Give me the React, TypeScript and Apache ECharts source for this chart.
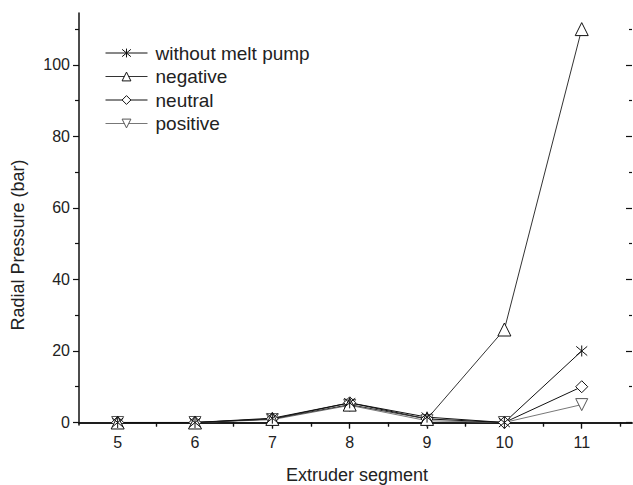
import React, { useEffect, useRef } from "react";
import * as echarts from "echarts";

const segments = [5, 6, 7, 8, 9, 10, 11];
const withoutMeltPump = [0, 0, 1.2, 5.5, 1.5, 0, 20];
const negative = [0, 0, 1, 5, 1, 26, 110];
const neutral = [0, 0, 1, 5.5, 1, 0, 10];
const positive = [0, 0, 0.8, 4.8, 0.5, 0, 5];

const xMajor = [5, 6, 7, 8, 9, 10, 11];
const xMinor = [5.5, 6.5, 7.5, 8.5, 9.5, 10.5, 11.5];
const yMajor = [0, 20, 40, 60, 80, 100];
const yMinor = [10, 30, 50, 70, 90, 110];

const FONT = "'Liberation Sans', Arial, sans-serif";

const ASTERISK = "path://M0,0L10,10M10,0L0,10M5,-1L5,11";
const TRI_UP = "path://M5,0L10,9L0,9Z";
const TRI_DOWN = "path://M0,0L10,0L5,9Z";

function pairs(vals: number[]) {
  return segments.map((s, i) => [s, vals[i]]);
}

export default function App() {
  const ref = useRef<HTMLDivElement>(null);
  useEffect(() => {
    if (!ref.current) return;
    const chart = echarts.init(ref.current, undefined, { renderer: "svg" });
    const X0 = 4.5, X1 = 11.65, Y0 = -0.7, Y1 = 114.5;
    const axisBase = { type: "value", gridIndex: 0, splitLine: { show: false } };
    const mk = (name: string, vals: number[], symbol: string, size: number, color: string, border: string) => ({
      name,
      type: "line",
      xAxisIndex: 0,
      yAxisIndex: 0,
      data: pairs(vals),
      symbol,
      symbolSize: size,
      lineStyle: { color, width: 1 },
      itemStyle: { color: "#fff", borderColor: border, borderWidth: 1 },
    });
    chart.setOption({
      animation: false,
      backgroundColor: "#fff",
      grid: { left: 79, right: 1, top: 13, bottom: 60 },
      xAxis: [
        {
          ...axisBase, position: "bottom", min: X0, max: X1,
          axisLine: { show: true, lineStyle: { color: "#111", width: 1.5 } },
          axisTick: { show: true, inside: false, length: 6, customValues: xMajor, lineStyle: { color: "#111", width: 1.2 } },
          axisLabel: { show: true, customValues: xMajor, fontSize: 16, color: "#222", fontFamily: FONT, margin: 9 },
        },
        {
          ...axisBase, position: "bottom", min: X0, max: X1,
          axisLine: { show: false },
          axisTick: { show: true, inside: false, length: 4, customValues: xMinor, lineStyle: { color: "#111", width: 1.2 } },
          axisLabel: { show: false },
        },
        {
          ...axisBase, position: "top", min: X0, max: X1,
          axisLine: { show: true, lineStyle: { color: "#111", width: 1.5 } },
          axisTick: { show: true, inside: true, length: 6, customValues: xMajor, lineStyle: { color: "#111", width: 1.2 } },
          axisLabel: { show: false },
        },
        {
          ...axisBase, position: "top", min: X0, max: X1,
          axisLine: { show: false },
          axisTick: { show: true, inside: true, length: 4, customValues: xMinor, lineStyle: { color: "#111", width: 1.2 } },
          axisLabel: { show: false },
        },
      ],
      yAxis: [
        {
          ...axisBase, position: "left", min: Y0, max: Y1,
          axisLine: { show: true, lineStyle: { color: "#111", width: 1.5 } },
          axisTick: { show: true, inside: false, length: 6, customValues: yMajor, lineStyle: { color: "#111", width: 1.2 } },
          axisLabel: { show: true, customValues: yMajor, fontSize: 16, color: "#222", fontFamily: FONT, margin: 9 },
        },
        {
          ...axisBase, position: "left", min: Y0, max: Y1,
          axisLine: { show: false },
          axisTick: { show: true, inside: false, length: 4, customValues: yMinor, lineStyle: { color: "#111", width: 1.2 } },
          axisLabel: { show: false },
        },
        {
          ...axisBase, position: "right", min: Y0, max: Y1,
          axisLine: { show: false },
          axisTick: { show: true, inside: true, length: 6, customValues: yMajor, lineStyle: { color: "#111", width: 1.2 } },
          axisLabel: { show: false },
        },
        {
          ...axisBase, position: "right", min: Y0, max: Y1,
          axisLine: { show: false },
          axisTick: { show: true, inside: true, length: 3, customValues: yMinor, lineStyle: { color: "#111", width: 1.2 } },
          axisLabel: { show: false },
        },
      ],
      legend: {
        orient: "vertical",
        left: 105,
        top: 43,
        padding: 0,
        itemWidth: 42,
        itemHeight: 11,
        itemGap: 3.5,
        lineStyle: { width: 1 },
        itemStyle: { color: "#fff", borderWidth: 1 },
        textStyle: { fontSize: 19, color: "#222", fontFamily: FONT, lineHeight: 20, padding: [0, 0, 0, 3] },
        data: ["without melt pump", "negative", "neutral", "positive"],
      },
      graphic: [
        {
          type: "text",
          x: 357,
          y: 475,
          style: { text: "Extruder segment", fontSize: 18, fill: "#222", fontFamily: FONT, textAlign: "center", textVerticalAlign: "middle" },
        },
        {
          type: "text",
          x: 18,
          y: 245,
          rotation: Math.PI / 2,
          style: { text: "Radial Pressure (bar)", fontSize: 18, fill: "#222", fontFamily: FONT, textAlign: "center", textVerticalAlign: "middle" },
        },
      ],
      series: [
        mk("positive", positive, TRI_DOWN, 12, "#777", "#555"),
        mk("neutral", neutral, "diamond", 12, "#111", "#111"),
        mk("negative", negative, TRI_UP, 13, "#333", "#111"),
        mk("without melt pump", withoutMeltPump, ASTERISK, 11, "#111", "#111"),
      ],
    });
    return () => chart.dispose();
  }, []);
  return <div ref={ref} style={{ width: 633, height: 485, position: "absolute", left: 0, top: 0 }} />;
}
